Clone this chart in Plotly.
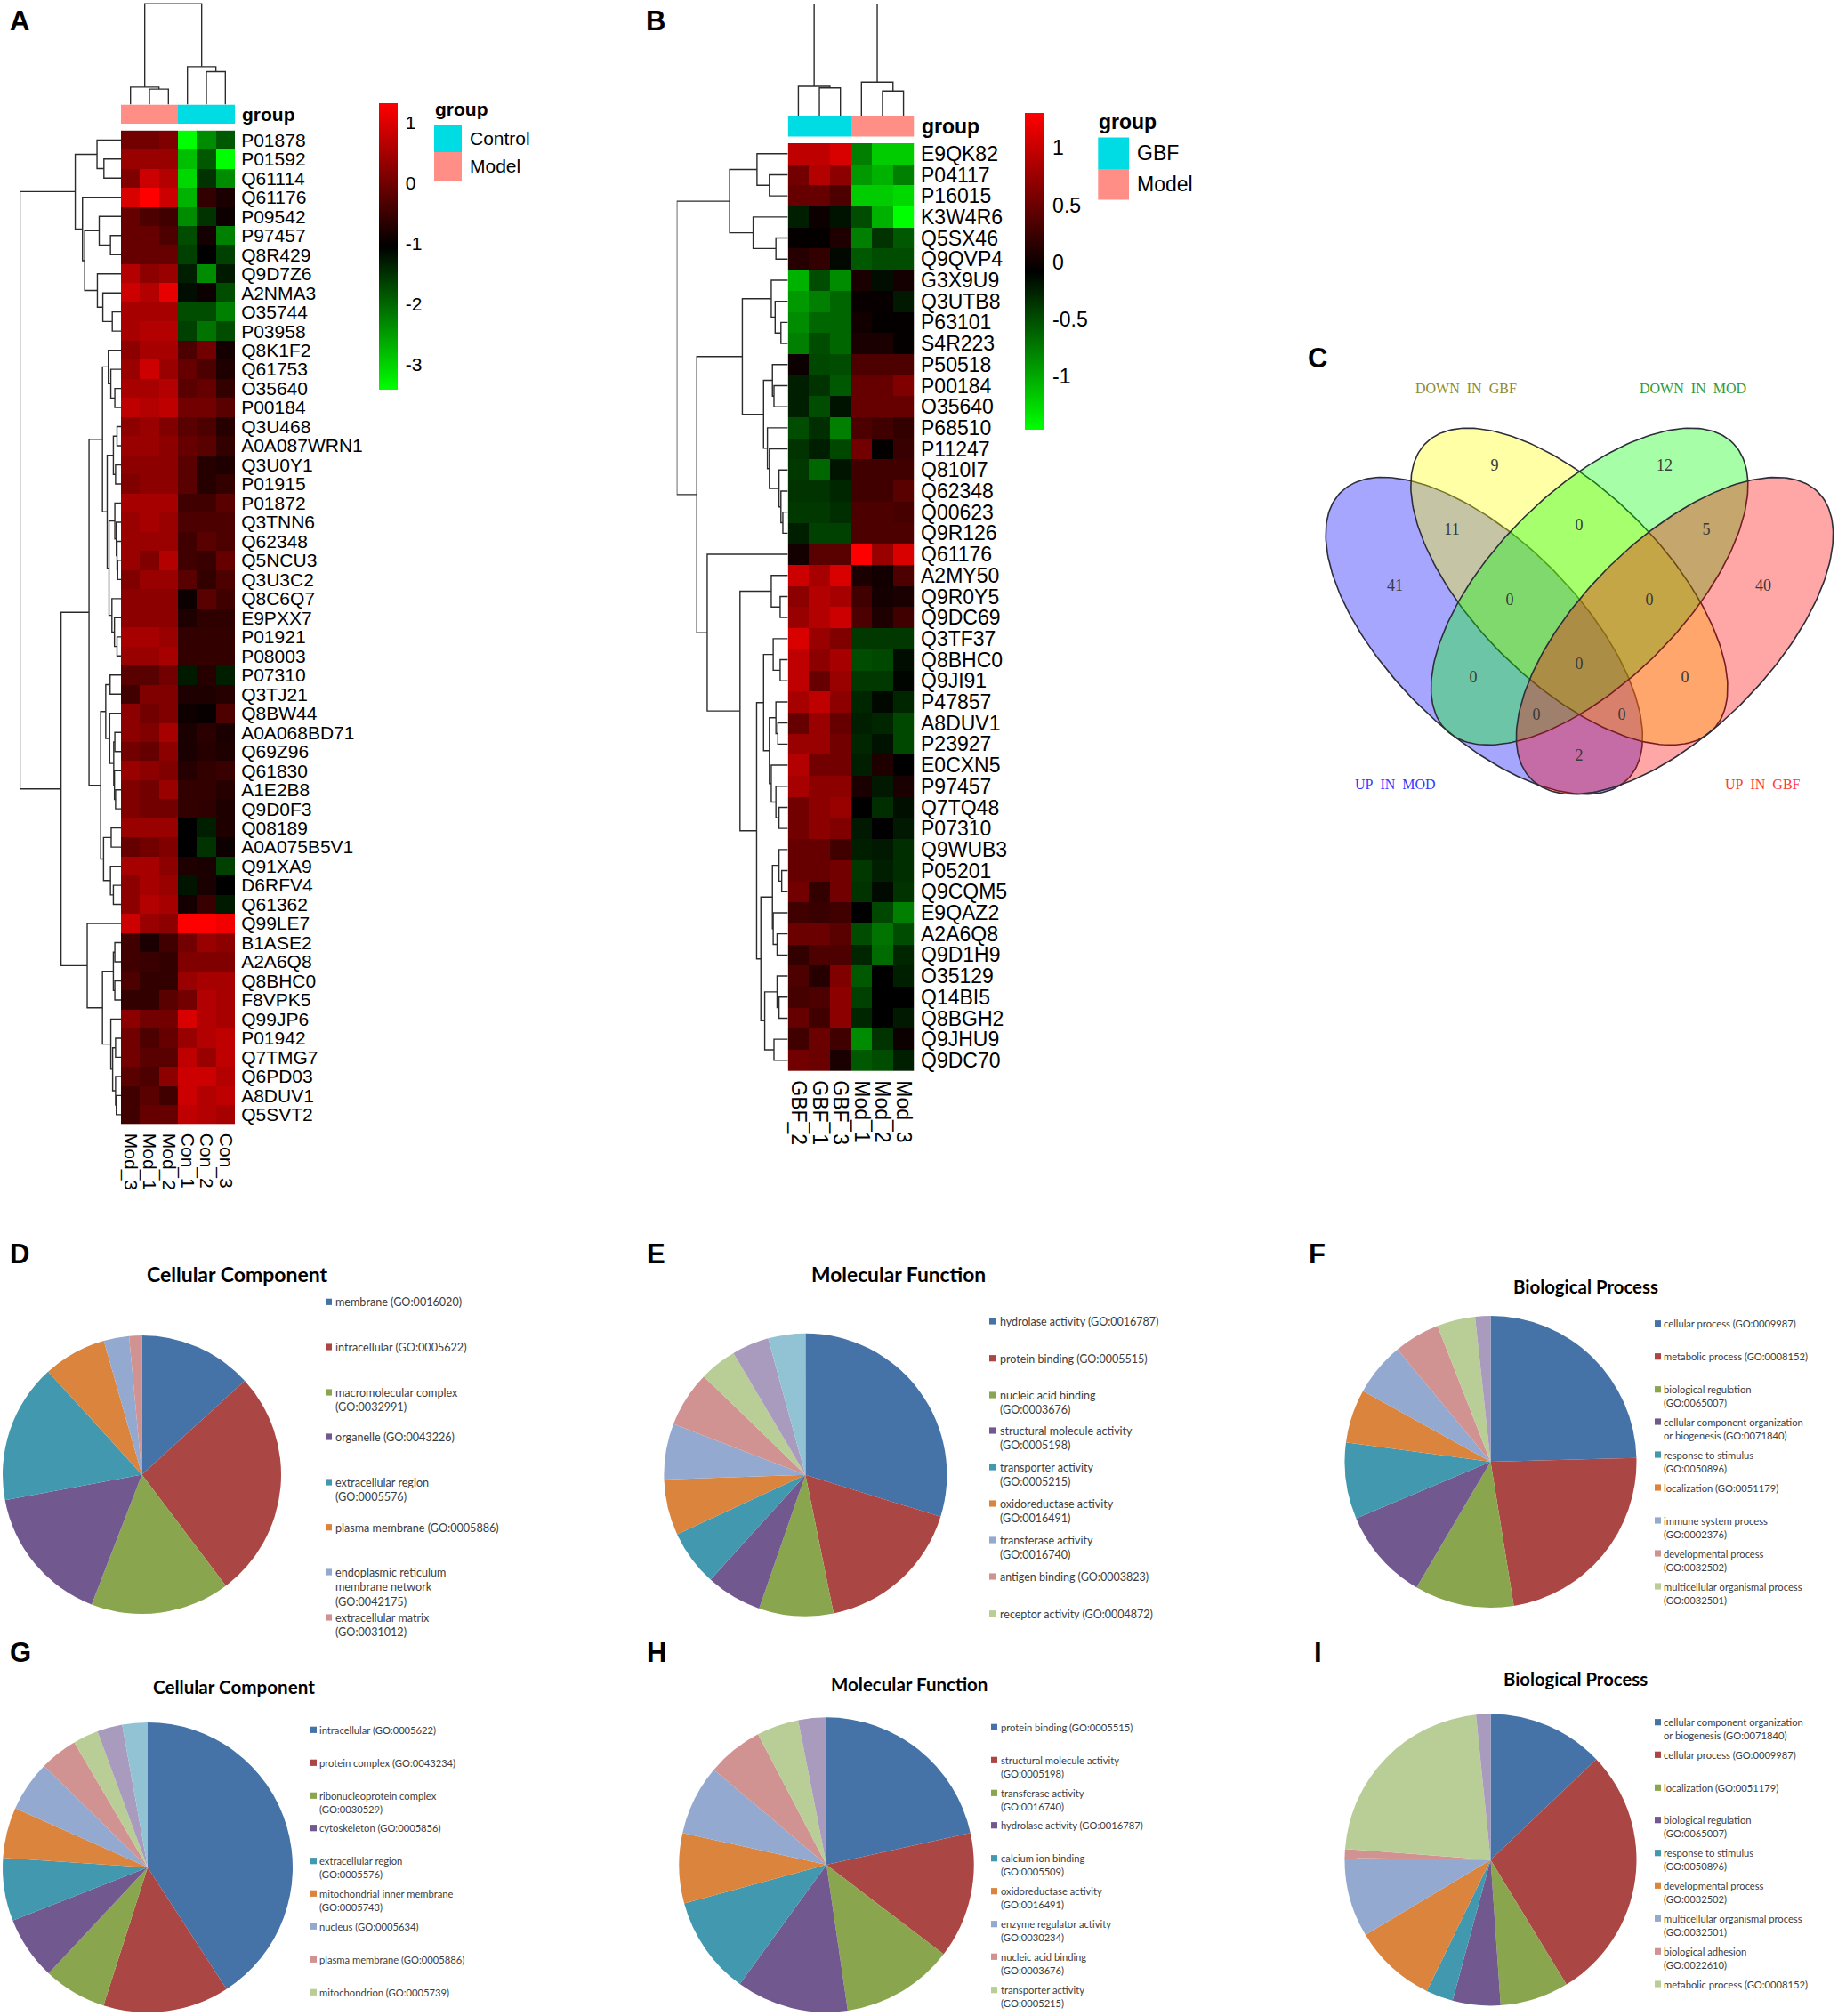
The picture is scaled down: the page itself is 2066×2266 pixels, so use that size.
import numpy as np
import plotly.graph_objects as go

W, H = 2066, 2266

# ---- panel A heatmap, red (+) / green (-) strength ----
a_rows = ['P01878', 'P01592', 'Q61114', 'Q61176', 'P09542', 'P97457', 'Q8R429', 'Q9D7Z6', 'A2NMA3', 'O35744',
          'P03958', 'Q8K1F2', 'Q61753', 'O35640', 'P00184', 'Q3U468', 'A0A087WRN1', 'Q3U0Y1', 'P01915', 'P01872',
          'Q3TNN6', 'Q62348', 'Q5NCU3', 'Q3U3C2', 'Q8C6Q7', 'E9PXX7', 'P01921', 'P08003', 'P07310', 'Q3TJ21',
          'Q8BW44', 'A0A068BD71', 'Q69Z96', 'Q61830', 'A1E2B8', 'Q9D0F3', 'Q08189', 'A0A075B5V1', 'Q91XA9', 'D6RFV4',
          'Q61362', 'Q99LE7', 'B1ASE2', 'A2A6Q8', 'Q8BHC0', 'F8VPK5', 'Q99JP6', 'P01942', 'Q7TMG7', 'Q6PD03',
          'A8DUV1', 'Q5SVT2']
a_cols = ['Mod_3', 'Mod_1', 'Mod_2', 'Con_1', 'Con_2', 'Con_3']
a_levels = [
    [.45, .45, .5, -1, -.55, -.35], [.6, .6, .6, -.75, -.35, -1], [.5, .8, .7, -.85, -.2, -.55],
    [.85, 1, .8, -.7, .2, .1], [.4, .3, .25, -.55, -.2, .05], [.4, .4, .3, -.3, .08, -.5],
    [.4, .4, .4, -.25, 0, -.25], [.7, .55, .6, -.12, -.55, -.1], [.8, .7, .9, -.05, .05, -.3],
    [.65, .65, .65, -.3, -.3, -.5], [.65, .7, .7, -.25, -.45, -.3], [.55, .65, .65, .3, .45, .08],
    [.6, .8, .6, .4, .3, .12], [.65, .65, .7, .35, .4, .2], [.75, .7, .75, .45, .45, .35],
    [.55, .6, .5, .35, .3, .15], [.6, .6, .55, .4, .35, .2], [.55, .55, .55, .35, .15, .12],
    [.5, .55, .55, .35, .15, .2], [.65, .65, .65, .25, .25, .35], [.6, .65, .6, .3, .3, .3],
    [.6, .6, .6, .25, .35, .3], [.6, .5, .7, .25, .22, .4], [.5, .6, .6, .35, .2, .3],
    [.55, .55, .55, .05, .35, .25], [.55, .55, .55, .12, .18, .18], [.65, .65, .6, .2, .2, .2],
    [.6, .6, .65, .2, .2, .2], [.35, .35, .45, -.1, .15, -.12], [.25, .5, .5, .12, .12, .15],
    [.55, .45, .5, .06, .03, .3], [.55, .5, .65, .1, .17, .1], [.45, .4, .55, .1, .15, .12],
    [.6, .55, .5, .15, .2, .22], [.5, .45, .6, .2, .2, .15], [.5, .45, .45, .2, .18, .12],
    [.6, .6, .6, 0, -.12, .12], [.4, .45, .5, 0, -.2, .05], [.65, .65, .55, .12, .1, -.25],
    [.55, .65, .6, -.08, .1, 0], [.55, .7, .65, .08, .22, -.1], [.8, .6, .55, 1, 1, .95],
    [.25, .1, .25, .45, .6, .55], [.25, .22, .2, .5, .5, .5], [.3, .2, .2, .6, .65, .65],
    [.2, .2, .35, .45, .7, .65], [.55, .45, .45, .85, .7, .65], [.45, .3, .4, .6, .7, .75],
    [.45, .35, .35, .75, .6, .75], [.35, .3, .55, .8, .8, .7], [.25, .35, .25, .8, .7, .75],
    [.25, .4, .4, .75, .7, .65],
]
a_ticks = [1, 0, -1, -2, -3]
a_tick_text = ['1', '0', '-1', '-2', '-3']
a_zmin, a_zmax = -3.41, 1.325
a_groups = [1, 1, 1, 0, 0, 0]

# merges are (height, upper, lower), leaves are row/column numbers
a_row_tree = (278,
              (126, (66, 0, (47, 1, 2)),
               (106, 3, (100, (60, 4, (29, 5, 6)), (65, 7, (50, 8, (24, 9, 10)))))),
              (165,
               (88,
                (51, (35, 11, (28, 12, (17, 13, 14))),
                 (38, (21, (11, 15, 16), (15, 17, 18)),
                  (33, (17, 19, (13, 20, (11, 21, (9, 22, 23)))), (25, 24, (18, 25, (11, 26, 27)))))),
                (56, (42, (30, 28, 29), (31, 30, (20, (17, 31, 32), (18, 33, (15, 34, 35))))),
                 (48, (27, 36, 37), (29, 38, (21, 39, 40))))),
               (93, 41, (51, (21, (17, 42, 43), (17, 44, 45)),
                         (28, 46, (23, (15, 47, 48), (15, 49, (13, 50, 51))))))))
a_col_tree = (262, (45, 0, (40, 1, 2)), (98, 3, (85, 4, 5)))

# ---- panel B heatmap ----
b_rows = ['E9QK82', 'P04117', 'P16015', 'K3W4R6', 'Q5SX46', 'Q9QVP4', 'G3X9U9', 'Q3UTB8', 'P63101', 'S4R223',
          'P50518', 'P00184', 'O35640', 'P68510', 'P11247', 'Q810I7', 'Q62348', 'Q00623', 'Q9R126', 'Q61176',
          'A2MY50', 'Q9R0Y5', 'Q9DC69', 'Q3TF37', 'Q8BHC0', 'Q9JI91', 'P47857', 'A8DUV1', 'P23927', 'E0CXN5',
          'P97457', 'Q7TQ48', 'P07310', 'Q9WUB3', 'P05201', 'Q9CQM5', 'E9QAZ2', 'A2A6Q8', 'Q9D1H9', 'O35129',
          'Q14BI5', 'Q8BGH2', 'Q9JHU9', 'Q9DC70']
b_cols = ['GBF_2', 'GBF_1', 'GBF_3', 'Mod_1', 'Mod_2', 'Mod_3']
b_levels = [
    [.75, .75, .85, -.5, -.8, -.8], [.45, .7, .55, -.6, -.7, -.5], [.4, .4, .3, -.8, -.8, -.85],
    [-.12, .05, -.07, -.3, -.7, -1], [.02, .02, .12, -.5, -.2, -.35], [.15, .2, -.03, -.35, -.3, -.3],
    [-.7, -.3, -.55, .1, -.05, .08], [-.6, -.5, -.4, .03, .03, -.1], [-.55, -.4, -.4, .07, .02, .02],
    [-.5, -.3, -.4, .1, .1, .02], [.05, -.28, -.3, .3, .3, .3], [-.12, -.2, -.35, .4, .4, .5],
    [-.12, -.3, -.07, .4, .4, .4], [-.3, -.18, -.5, .3, .25, .2], [-.2, -.12, -.28, .45, .02, .22],
    [-.22, -.4, -.08, .25, .25, .25], [-.2, -.2, -.15, .25, .25, .35], [-.22, -.22, -.18, .3, .3, .28],
    [-.12, -.25, -.25, .3, .3, .3], [.08, .35, .35, 1, .6, .85], [.8, .65, .85, .1, .07, .3],
    [.55, .7, .65, .25, .08, .1], [.6, .7, .8, .3, .12, .25], [.85, .6, .5, -.22, -.22, -.22],
    [.75, .55, .65, -.3, -.28, -.05], [.75, .4, .6, -.22, -.22, -.02], [.65, .75, .55, -.15, -.03, -.15],
    [.4, .6, .4, -.12, -.15, -.28], [.6, .6, .45, -.15, -.07, -.28], [.7, .45, .45, -.12, .12, 0],
    [.65, .55, .55, .1, -.1, .1], [.45, .55, .6, 0, -.18, -.06], [.45, .55, .5, -.1, 0, -.1],
    [.4, .4, .25, -.12, -.1, -.18], [.4, .4, .45, -.22, -.12, -.18], [.45, .2, .45, -.2, -.04, -.2],
    [.25, .22, .25, 0, -.28, -.5], [.42, .42, .35, -.3, -.45, -.3], [.2, .3, .3, -.15, -.42, -.15],
    [.3, .15, .5, -.35, 0, -.12], [.27, .3, .55, -.25, 0, 0], [.4, .25, .55, -.15, 0, -.1],
    [.25, .42, .25, -.55, -.2, .05], [.45, .42, .1, -.35, -.3, -.12],
]
b_ticks = [1, 0.5, 0, -0.5, -1]
b_tick_text = ['1', '0.5', '0', '-0.5', '-1']
b_zmin, b_zmax = -1.466, 1.307
b_groups = [0, 0, 0, 1, 1, 1]

b_row_tree = (288,
              (151, (80, 0, (48, 1, 2)), (90, 3, (31, 4, 5))),
              (236,
               (118, (43, 6, (33, 7, (18, 8, 9))),
                (63, (40, 10, (36, 11, 12)), (53, 13, (48, 14, (23, 15, (18, 16, (13, 17, 18))))))),
               (209, 19,
                (124, (43, 20, (20, 21, 22)),
                 (81,
                  (63, (38, 23, (20, 24, 25)),
                   (48, (31, 26, (26, 27, 28)), (43, 29, (31, 30, (23, 31, 32))))),
                  (70, (40, (23, 33, (16, 34, 35)), (38, 36, (28, 37, 38))),
                   (60, (28, 39, (23, 40, 41)), (36, 42, 43))))))))
b_col_tree = (290, (76, 0, (72, 1, 2)), (87, 3, (64, 4, 5)))

# ---- panel C venn ----
venn_counts = ['41', '9', '11', '12', '0', '5', '40', '0', '0', '0', '0', '0', '0', '0', '2']
venn_x = [1568, 1680, 1632, 1871, 1775, 1918, 1982, 1697, 1854, 1775, 1656, 1894, 1727, 1823, 1775]
venn_y = [659, 524, 596, 524, 591, 596, 659, 675, 675, 747, 762, 762, 804, 804, 850]
venn_names = ['UP&nbsp;&nbsp;IN&nbsp;&nbsp;MOD', 'DOWN&nbsp;&nbsp;IN&nbsp;&nbsp;GBF',
              'DOWN&nbsp;&nbsp;IN&nbsp;&nbsp;MOD', 'UP&nbsp;&nbsp;IN&nbsp;&nbsp;GBF']

# ---- pies D-I ----
d_labels = ['membrane (GO:0016020)', 'intracellular (GO:0005622)', 'macromolecular complex<br>(GO:0032991)',
            'organelle (GO:0043226)', 'extracellular region<br>(GO:0005576)', 'plasma membrane (GO:0005886)',
            'endoplasmic reticulum<br>membrane network<br>(GO:0042175)', 'extracellular matrix<br>(GO:0031012)']
d_values = [9, 18, 11, 11, 11, 5, 2, 1]
e_labels = ['hydrolase activity (GO:0016787)', 'protein binding (GO:0005515)', 'nucleic acid binding<br>(GO:0003676)',
            'structural molecule activity<br>(GO:0005198)', 'transporter activity<br>(GO:0005215)',
            'oxidoreductase activity<br>(GO:0016491)', 'transferase activity<br>(GO:0016740)',
            'antigen binding (GO:0003823)', 'receptor activity (GO:0004872)']
e_values = [14, 8, 4, 3, 3, 3, 3, 3, 2, 2, 2]
f_labels = ['cellular process (GO:0009987)', 'metabolic process (GO:0008152)', 'biological regulation<br>(GO:0065007)',
            'cellular component organization<br>or biogenesis (GO:0071840)', 'response to stimulus<br>(GO:0050896)',
            'localization (GO:0051179)', 'immune system process<br>(GO:0002376)',
            'developmental process<br>(GO:0032502)', 'multicellular organismal process<br>(GO:0032501)']
f_values = [29, 27, 13, 12, 10, 7, 7, 6, 5, 2]
g_labels = ['intracellular (GO:0005622)', 'protein complex (GO:0043234)', 'ribonucleoprotein complex<br>(GO:0030529)',
            'cytoskeleton (GO:0005856)', 'extracellular region<br>(GO:0005576)',
            'mitochondrial inner membrane<br>(GO:0005743)', 'nucleus (GO:0005634)', 'plasma membrane (GO:0005886)',
            'mitochondrion (GO:0005739)']
g_values = [29, 10, 5, 5, 5, 4, 4, 3, 2, 2, 2]
h_labels = ['protein binding (GO:0005515)', 'structural molecule activity<br>(GO:0005198)',
            'transferase activity<br>(GO:0016740)', 'hydrolase activity (GO:0016787)',
            'calcium ion binding<br>(GO:0005509)', 'oxidoreductase activity<br>(GO:0016491)',
            'enzyme regulator activity<br>(GO:0030234)', 'nucleic acid binding<br>(GO:0003676)',
            'transporter activity<br>(GO:0005215)']
h_values = [14, 9, 8, 8, 7, 5, 5, 4, 3, 2]
i_labels = ['cellular component organization<br>or biogenesis (GO:0071840)', 'cellular process (GO:0009987)',
            'localization (GO:0051179)', 'biological regulation<br>(GO:0065007)', 'response to stimulus<br>(GO:0050896)',
            'developmental process<br>(GO:0032502)', 'multicellular organismal process<br>(GO:0032501)',
            'biological adhesion<br>(GO:0022610)', 'metabolic process (GO:0008152)']
i_values = [12.9, 28.4, 7.6, 5.3, 3, 9.2, 8.8, 1, 22.2, 1.6]

pie_colors = ['#4572A7', '#AA4643', '#89A54E', '#71588F', '#4198AF', '#DB843D', '#93A9CF', '#D19392', '#B9CD96',
              '#A99BBD', '#92C3D5']
green_black_red = [[0, '#00FF00'], [0.5, '#000000'], [1, '#FF0000']]
group_colors = [[0, '#00DCE4'], [1, '#FF8E86']]

HELV = 'Liberation Sans'
CAL = 'Lato'
SERIF = 'Liberation Serif'


def fx(px):
    return px / W


def fy(py):
    return 1 - py / H


fig = go.Figure()
n_axes = 0


def new_axes(x0, x1, y0, y1, xrange, yrange, **xopts):
    # one pair of axes placed by page pixels
    global n_axes
    n_axes += 1
    sfx = '' if n_axes == 1 else str(n_axes)
    base = dict(showgrid=False, zeroline=False, showline=False, showticklabels=False, ticks='')
    xax = dict(base, domain=[fx(x0), fx(x1)], range=xrange, anchor='y' + sfx)
    yax = dict(base, domain=[fy(y1), fy(y0)], range=yrange, anchor='x' + sfx)
    fig.layout['xaxis' + sfx] = xax
    fig.layout['yaxis' + sfx] = yax
    return 'x' + sfx, 'y' + sfx


def walk(node, segs):
    if isinstance(node, int):
        return node, 0
    h, upper, lower = node
    p1, h1 = walk(upper, segs)
    p2, h2 = walk(lower, segs)
    segs += [(p1, h1), (p1, h), (p2, h), (p2, h2), (None, None)]
    return (p1 + p2) / 2, h


def add_text(px, py, text, size, family=HELV, bold=False, color='black', xanchor='left', yanchor='middle'):
    fig.add_annotation(xref='paper', yref='paper', x=fx(px), y=fy(py), text='<b>%s</b>' % text if bold else text,
                       showarrow=False, xanchor=xanchor, yanchor=yanchor, align='left', borderpad=0,
                       font=dict(family=family, size=size, color=color))


def add_box(x0, y0, x1, y1, color):
    fig.add_shape(type='rect', xref='paper', yref='paper', x0=fx(x0), x1=fx(x1), y0=fy(y0), y1=fy(y1),
                  fillcolor=color, line_width=0)


def clustered(rows, cols, levels, zmin, zmax, ticks, tick_text, groups, row_tree, col_tree, box, bar, dend_x, dend_top,
              cbar, font, names, name_x, name_box):
    x0, x1, y0, y1 = box
    n = len(rows)
    mid, half = (zmin + zmax) / 2, (zmax - zmin) / 2
    z = mid + np.array(levels) * half
    black_font = dict(family=HELV, size=font, color='black')

    xa, ya = new_axes(x0, x1, y0, y1, [-0.5, 5.5], [n - 0.5, -0.5])
    fig.add_trace(go.Heatmap(z=z, x=list(range(6)), y=list(range(n)), xaxis=xa, yaxis=ya, zmin=zmin, zmax=zmax,
                             colorscale=green_black_red, hoverinfo='skip',
                             colorbar=dict(x=fx(cbar[0]), xanchor='left', xpad=0, ypad=0, thickness=cbar[1] - cbar[0],
                                           lenmode='pixels', len=cbar[3] - cbar[2], yanchor='top', y=fy(cbar[2]),
                                           outlinewidth=0, tickmode='array', tickvals=ticks, ticktext=tick_text,
                                           ticks='outside', ticklen=5, tickcolor='rgba(0,0,0,0)',
                                           tickfont=black_font)))
    lay_x = fig.layout['xaxis' + xa[1:]]
    lay_y = fig.layout['yaxis' + ya[1:]]
    lay_x.update(showticklabels=True, tickmode='array', tickvals=list(range(6)), ticktext=cols, tickangle=90,
                 ticks='outside', ticklen=5, tickcolor='rgba(0,0,0,0)', side='bottom', tickfont=black_font)
    lay_y.update(showticklabels=True, tickmode='array', tickvals=list(range(n)), ticktext=rows, side='right',
                 ticks='outside', ticklen=2, tickcolor='rgba(0,0,0,0)', tickfont=black_font)

    # annotation bar above the heatmap
    xa, ya = new_axes(x0, x1, bar[0], bar[1], [-0.5, 5.5], [0, 1])
    fig.add_trace(go.Heatmap(z=[groups], x=list(range(6)), xaxis=xa, yaxis=ya, y0=0.5, zmin=0, zmax=1,
                             colorscale=group_colors, showscale=False, hoverinfo='skip'))

    line = dict(color='#2b2b2b', width=1.4)
    segs = []
    walk(row_tree, segs)
    xa, ya = new_axes(dend_x, x0, y0, y1, [row_tree[0], 0], [n - 0.5, -0.5])
    fig.add_trace(go.Scatter(x=[s[1] for s in segs], y=[s[0] for s in segs], mode='lines', line=line, xaxis=xa,
                             yaxis=ya, hoverinfo='skip'))
    segs = []
    walk(col_tree, segs)
    xa, ya = new_axes(x0, x1, dend_top, bar[0], [-0.5, 5.5], [0, col_tree[0]])
    fig.add_trace(go.Scatter(x=[s[0] for s in segs], y=[s[1] for s in segs], mode='lines', line=line, xaxis=xa,
                             yaxis=ya, hoverinfo='skip'))

    # group labels and the group legend
    add_text(name_x, (bar[0] + bar[1]) / 2, 'group', font, bold=True)
    bx0, bx1, by0, by1, by2 = name_box
    add_text(bx0, by0 - 17, 'group', font, bold=True)
    add_box(bx0, by0, bx1, by1, '#00DCE4')
    add_box(bx0, by1, bx1, by2, '#FF8E86')
    add_text(bx1 + 7.5, (by0 + by1) / 2, names[0], font)
    add_text(bx1 + 7.5, (by1 + by2) / 2, names[1], font)


clustered(a_rows, a_cols, a_levels, a_zmin, a_zmax, a_ticks, a_tick_text, a_groups, a_row_tree, a_col_tree,
          (136, 264, 146.6, 1263.6), (117.5, 139), 22.5, 3.5, (426, 447, 116, 438), 21,
          ['Control', 'Model'], 271, (488, 519, 140, 171, 203))
clustered(b_rows, b_cols, b_levels, b_zmin, b_zmax, b_ticks, b_tick_text, b_groups, b_row_tree, b_col_tree,
          (885.6, 1027.4, 160.9, 1203.7), (130, 153.5), 760.7, 4.3, (1152, 1174.4, 127, 482.7), 23,
          ['GBF', 'Model'], 1034.8, (1234.3, 1269, 154.4, 190, 224.6))

# venn on a page-sized pair of axes
page_x, page_y = new_axes(0, W, 0, H, [0, W], [H, 0])
ell_cx = [1668.3, 1763.9, 1786.7, 1882.5]
ell_cy = [714.6, 659.3, 659.3, 714.6]
ell_tilt = [45, 45, -45, -45]
ell_rgb = ['0,0,255', '255,255,0', '0,255,0', '255,0,0']
t = np.linspace(0, 2 * np.pi, 240)
for cx, cy, tilt, rgb in zip(ell_cx, ell_cy, ell_tilt, ell_rgb):
    ang = np.radians(tilt)
    u, v = 228 * np.cos(t), 107 * np.sin(t)
    fig.add_trace(go.Scatter(x=cx + u * np.cos(ang) - v * np.sin(ang), y=cy + u * np.sin(ang) + v * np.cos(ang),
                             mode='lines', fill='toself', fillcolor='rgba(%s,0.35)' % rgb,
                             line=dict(color='#2e2e3a', width=1.6), xaxis=page_x, yaxis=page_y, hoverinfo='skip'))
fig.add_trace(go.Scatter(x=venn_x, y=venn_y, text=venn_counts, mode='text', xaxis=page_x, yaxis=page_y,
                         textposition='middle center', hoverinfo='skip',
                         textfont=dict(family=SERIF, size=18, color='#3a3a3a')))
add_text(1568.5, 881.4, venn_names[0], 16, SERIF, color='#3838FF', xanchor='center')
add_text(1647.6, 436.8, venn_names[1], 16, SERIF, color='#8C8C30', xanchor='center')
add_text(1902.7, 436.8, venn_names[2], 16, SERIF, color='#2E9A3C', xanchor='center')
add_text(1981.7, 881.4, venn_names[3], 16, SERIF, color='#FF3838', xanchor='center')


def pie_panel(values, labels, cx, cy, r, title, title_xy, title_size, swatch_x, text_x, legend_y, text_size):
    fig.add_trace(go.Pie(values=values, sort=False, direction='clockwise', rotation=0, textinfo='none',
                         hoverinfo='skip', marker=dict(colors=pie_colors, line=dict(width=0)), showlegend=False,
                         domain=dict(x=[fx(cx - r), fx(cx + r)], y=[fy(cy + r), fy(cy - r)])))
    add_text(title_xy[0], title_xy[1], title, title_size, CAL, bold=True, xanchor='center')
    for i, (lab, ly) in enumerate(zip(labels, legend_y)):
        add_box(swatch_x, ly - 3.6, swatch_x + 7, ly + 3.6, pie_colors[i])
        add_text(text_x, ly - 0.65 * text_size, lab, text_size, CAL, color='#3c3c3c', yanchor='top')


pie_panel(d_values, d_labels, 159.5, 1657.5, 156.5, 'Cellular Component', (266.5, 1432), 23, 366, 376,
          [1463.3, 1514, 1565, 1615, 1666, 1716.7, 1767, 1818], 12.6)
pie_panel(e_values, e_labels, 905.4, 1657.7, 159, 'Molecular Function', (1010, 1432), 22.8, 1112, 1122.8,
          [1485, 1526.7, 1568, 1608, 1649, 1690, 1731, 1772, 1813.7], 12.5)
pie_panel(f_values, f_labels, 1675.5, 1643, 164, 'Biological Process', (1782, 1446), 20.4, 1860, 1868.6,
          [1487.7, 1524.7, 1561.7, 1598, 1635, 1672, 1709, 1746, 1783], 11.2)
pie_panel(g_values, g_labels, 166, 2099, 163, 'Cellular Component', (263, 1896), 20.6, 349, 358,
          [1944.3, 1981.3, 2018.3, 2054.7, 2091.7, 2128.3, 2165.3, 2202.3, 2239.3], 11.2)
pie_panel(h_values, h_labels, 929, 2096, 165.7, 'Molecular Function', (1022, 1893), 20.5, 1114, 1124,
          [1941.3, 1978.3, 2015.3, 2051.7, 2088.7, 2125.7, 2162.7, 2199.3, 2236.7], 11.2)
pie_panel(i_values, i_labels, 1675.5, 2090.5, 164, 'Biological Process', (1771, 1887), 20.3, 1860, 1868.6,
          [1935.7, 1972.3, 2009.3, 2045.7, 2082.7, 2119.3, 2156.3, 2193.3, 2230], 11.2)

# panel letters
for letter, lx, ly in [('A', 10, 24), ('B', 725, 23), ('C', 1469, 402), ('D', 10, 1409), ('E', 726, 1409),
                       ('F', 1470, 1409), ('G', 10, 1857), ('H', 726, 1857), ('I', 1476, 1857)]:
    add_text(lx, ly, letter, 31, bold=True)

fig.update_layout(template='none', width=W, height=H, margin=dict(l=0, r=0, t=0, b=0), paper_bgcolor='white',
                  plot_bgcolor='rgba(0,0,0,0)', showlegend=False)
fig.write_html('out.html', config={'displayModeBar': False}, post_script="document.body.style.margin='0';")
